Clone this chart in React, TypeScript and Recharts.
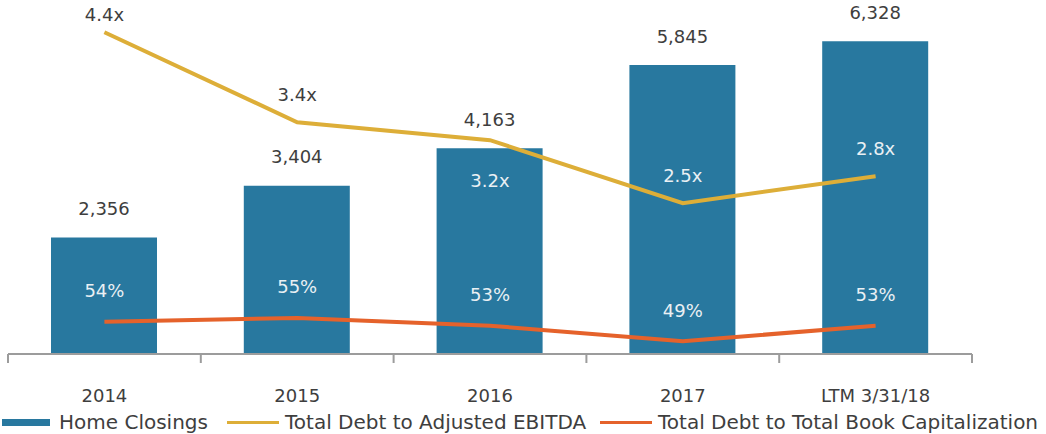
import React from 'react';
import { ComposedChart, Bar, Line, XAxis, YAxis, LabelList } from 'recharts';

// ---- data ----
const categories = ['2014', '2015', '2016', '2017', 'LTM 3/31/18'];
const homeClosings = [2356, 3404, 4163, 5845, 6328];
const debtToEbitda = [4.4, 3.4, 3.2, 2.5, 2.8];
const debtToBookCap = [54, 55, 53, 49, 53];
const ebitdaLabelSide = ['above', 'above', 'below', 'above', 'above'];

const data = categories.map((c, i) => ({
  category: c,
  closings: homeClosings[i],
  ebitda: debtToEbitda[i],
  cap: debtToBookCap[i],
}));

// ---- layout / style ----
const W = 1046;
const H = 434;
const MARGIN = { top: 8, right: 74, left: 8, bottom: 30 };
const XAXIS_H = 50;
const TICK_MARGIN = 34;
const PLOT_W = W - MARGIN.left - MARGIN.right;
const BAND = PLOT_W / categories.length;
const FONT = "'DejaVu Sans', sans-serif";
const TEXT = '#3e3e3e';
const AXIS = '#9c9c9c';
const BLUE = '#28789f';
const GOLD = '#ddae38';
const ORANGE = '#e5622b';
const INSIDE = '#eaf0f4';

const XTick = (props: any) => {
  const { x, y, payload, index } = props;
  const axisY = y - TICK_MARGIN;
  const half = BAND / 2;
  return (
    <g>
      <line x1={x - half} x2={x - half} y1={axisY} y2={axisY + 9} stroke={AXIS} strokeWidth={2} />
      {index === categories.length - 1 && (
        <line x1={x + half} x2={x + half} y1={axisY} y2={axisY + 9} stroke={AXIS} strokeWidth={2} />
      )}
      <text x={x} y={axisY + 41} textAnchor="middle" dominantBaseline="central" fill={TEXT} fontSize={18} fontFamily={FONT}>
        {payload.value}
      </text>
    </g>
  );
};

const BarValueLabel = (props: any) => {
  const vb = props.viewBox || {};
  const x = props.x ?? vb.x;
  const y = props.y ?? vb.y;
  const width = props.width ?? vb.width;
  return (
    <text x={x + width / 2} y={y - 29} textAnchor="middle" dominantBaseline="central" fill={TEXT} fontSize={18} fontFamily={FONT}>
      {Number(props.value).toLocaleString('en-US')}
    </text>
  );
};

const EbitdaLabel = (props: any) => {
  const { x, y, value, index } = props;
  const below = ebitdaLabelSide[index] === 'below';
  const ly = below ? y + 40 : Math.max(y - 28, 14);
  return (
    <text
      x={x}
      y={ly}
      textAnchor="middle"
      dominantBaseline="central"
      fill={below ? INSIDE : index === 0 || index === 1 ? TEXT : INSIDE}
      fontSize={18}
      fontFamily={FONT}
    >
      {Number(value).toFixed(1) + 'x'}
    </text>
  );
};

const CapLabel = (props: any) => {
  const { x, y, value } = props;
  return (
    <text x={x} y={y - 31} textAnchor="middle" dominantBaseline="central" fill={INSIDE} fontSize={18} fontFamily={FONT}>
      {value + '%'}
    </text>
  );
};

const legendText: React.CSSProperties = {
  position: 'absolute',
  top: 422,
  transform: 'translateY(-50%)',
  fontSize: 20,
  fontFamily: FONT,
  color: TEXT,
  whiteSpace: 'nowrap',
  lineHeight: 1,
};

export default function App() {
  return (
    <div style={{ position: 'absolute', left: 0, top: 0, width: W, height: H, background: '#fff' }}>
      <ComposedChart width={W} height={H} data={data} margin={MARGIN}>
        <XAxis
          dataKey="category"
          height={XAXIS_H}
          interval={0}
          tickLine={false}
          tickSize={0}
          tickMargin={TICK_MARGIN}
          axisLine={{ stroke: AXIS, strokeWidth: 2 }}
          tick={<XTick />}
        />
        <YAxis yAxisId="bars" hide domain={[0, 7000]} />
        <YAxis yAxisId="ebitda" hide domain={[0.824, 4.669]} allowDataOverflow />
        <YAxis yAxisId="cap" hide domain={[45.71, 134.97]} allowDataOverflow />
        <Bar yAxisId="bars" dataKey="closings" fill={BLUE} barSize={106} isAnimationActive={false}>
          <LabelList dataKey="closings" content={<BarValueLabel />} />
        </Bar>
        <Line
          yAxisId="ebitda"
          type="linear"
          dataKey="ebitda"
          stroke={GOLD}
          strokeWidth={4}
          dot={false}
          activeDot={false}
          isAnimationActive={false}
        >
          <LabelList dataKey="ebitda" content={<EbitdaLabel />} />
        </Line>
        <Line
          yAxisId="cap"
          type="linear"
          dataKey="cap"
          stroke={ORANGE}
          strokeWidth={4}
          dot={false}
          activeDot={false}
          isAnimationActive={false}
        >
          <LabelList dataKey="cap" content={<CapLabel />} />
        </Line>
      </ComposedChart>
      <div style={{ position: 'absolute', left: 2, top: 419, width: 48, height: 7, background: BLUE }} />
      <div style={{ ...legendText, left: 59 }}>Home Closings</div>
      <div style={{ position: 'absolute', left: 227, top: 421, width: 52, height: 3, background: GOLD }} />
      <div style={{ ...legendText, left: 285 }}>Total Debt to Adjusted EBITDA</div>
      <div style={{ position: 'absolute', left: 600, top: 421, width: 52, height: 3, background: ORANGE }} />
      <div style={{ ...legendText, left: 658 }}>Total Debt to Total Book Capitalization</div>
    </div>
  );
}
